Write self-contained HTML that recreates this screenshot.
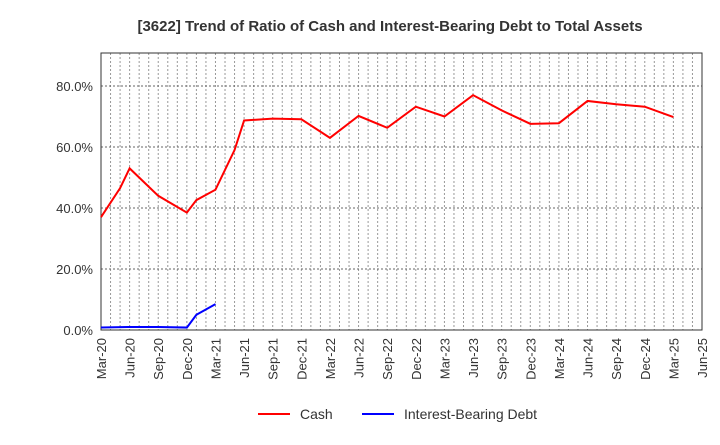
<!DOCTYPE html>
<html><head><meta charset="utf-8"><style>
body{margin:0;background:#fff;font-family:"Liberation Sans",sans-serif}
</style></head><body>
<svg id="chart" width="720" height="440" xmlns="http://www.w3.org/2000/svg">
<text x="390" y="31" text-anchor="middle" font-size="15" font-weight="bold" fill="#333">[3622]  Trend of Ratio of Cash and Interest-Bearing Debt to Total Assets</text>
<g id="grid"></g><g id="axes"></g><g id="series"></g>
<g>
<line x1="258" y1="414" x2="290" y2="414" stroke="#f00" stroke-width="2"/>
<text x="300" y="419" font-size="14" fill="#333">Cash</text>
<line x1="362" y1="414" x2="394" y2="414" stroke="#00f" stroke-width="2"/>
<text x="404" y="419" font-size="14" fill="#333">Interest-Bearing Debt</text>
</g>
</svg>
<script>
const tickLabels=["Mar-20","Jun-20","Sep-20","Dec-20","Mar-21","Jun-21","Sep-21","Dec-21","Mar-22","Jun-22","Sep-22","Dec-22","Mar-23","Jun-23","Sep-23","Dec-23","Mar-24","Jun-24","Sep-24","Dec-24","Mar-25","Jun-25"];
const yTicks=[0,20,40,60,80];
const cashMonths=[0,2,3,6,9,10,12,14,15,18,21,24,27,30,33,36,39,42,45,48,51,54,57,60];
const cashValues=[37,46.5,53,44,38.5,42.6,46,59,68.7,69.3,69.1,63,70.2,66.3,73.2,70,77,72,67.6,67.8,75.1,74,73.2,69.8];
const debtMonths=[0,3,6,9,10,12];
const debtValues=[0.8,1,1,0.8,5,8.5];
const L=101,R=702,T=53,B=330,NM=63;
const xs=m=>L+(R-L)*m/NM, ys=v=>B-(v/20)*61;
const NS="http://www.w3.org/2000/svg";
function mk(t,a,p){const e=document.createElementNS(NS,t);for(const k in a)e.setAttribute(k,a[k]);p.appendChild(e);return e;}
const g=document.getElementById('grid'),ax=document.getElementById('axes'),s=document.getElementById('series');
for(let m=1;m<NM;m++){const l=mk('line',{x1:xs(m),x2:xs(m),y1:T,y2:B,stroke:'#999','stroke-dasharray':'2,2','stroke-width':1},g);

}
yTicks.forEach(v=>{const l=mk('line',{x1:L,x2:R,y1:ys(v),y2:ys(v),stroke:'#666','stroke-dasharray':'2,2','stroke-width':1},g);


const t=mk('text',{x:L-8,y:ys(v)+5,'text-anchor':'end','font-size':13,fill:'#333'},ax);t.textContent=v.toFixed(1)+'%';

});
const fr=mk('rect',{x:L,y:T,width:R-L,height:B-T,fill:'none',stroke:'#333','stroke-width':1},ax);


tickLabels.forEach((lb,i)=>{const x=xs(i*3);const t=mk('text',{x:x+5,y:B+8,'text-anchor':'end','font-size':13,fill:'#333',transform:`rotate(-90 ${x+5} ${B+8})`},ax);t.textContent=lb;

});
function line(ms,vs,c,n){const p=mk('polyline',{points:ms.map((m,i)=>xs(m)+','+ys(vs[i])).join(' '),fill:'none',stroke:c,'stroke-width':2},s);

}
line(cashMonths,cashValues,'#f00','cash-line');
line(debtMonths,debtValues,'#00f','debt-line');
</script>
</body></html>
